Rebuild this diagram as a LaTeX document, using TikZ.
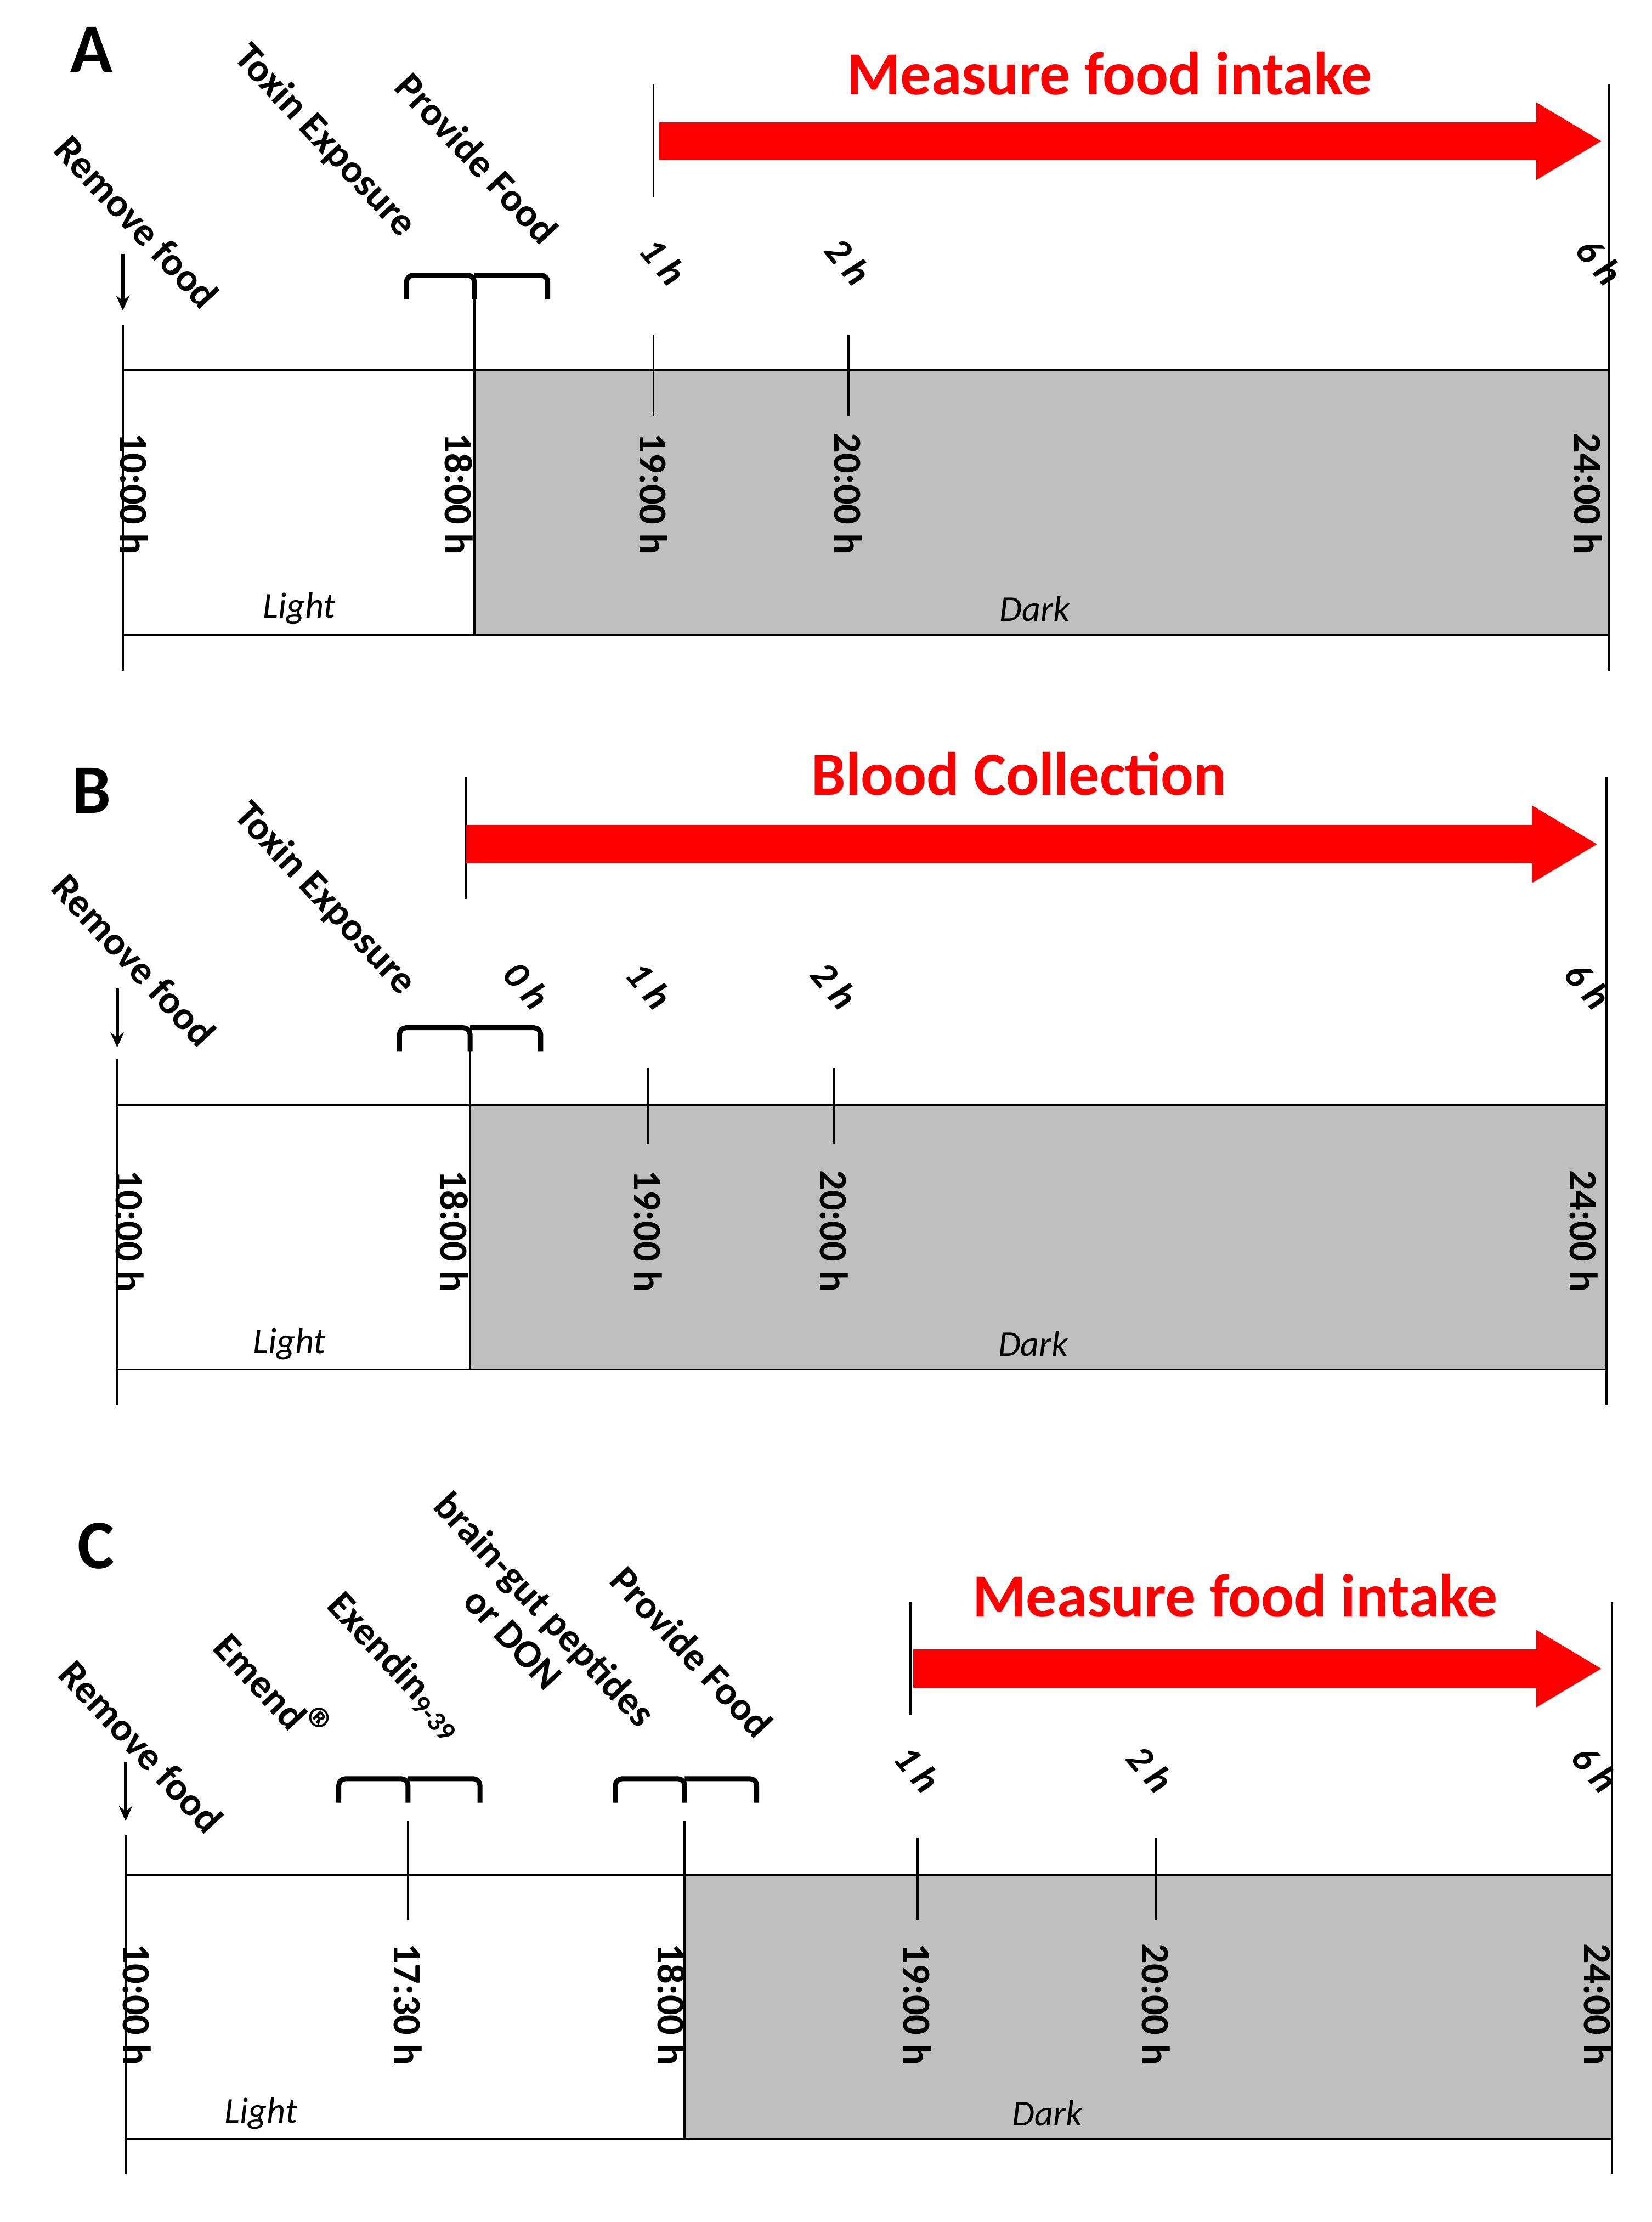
\documentclass[tikz,border=0pt]{standalone}
\usepackage{fontspec}
\setmainfont{Carlito}
\usetikzlibrary{arrows.meta,positioning}
\definecolor{darkgray}{RGB}{191,191,191}
\definecolor{myred}{RGB}{255,0,0}
\tikzset{
  tline/.style={black, line width=1.2pt},
  tick/.style={black, line width=1.2pt},
  tlabel/.style={rotate=-90, font=\fontsize{24}{27}\selectfont\bfseries, anchor=center},
  slabel/.style={rotate=-47, font=\fontsize{24}{26}\selectfont\bfseries, anchor=center, align=center},
  hlabel/.style={rotate=-50, font=\fontsize{23}{26}\selectfont\bfseries\itshape, anchor=center},
  plabel/.style={font=\fontsize{42}{46}\selectfont\bfseries},
  ttl/.style={font=\fontsize{37}{42}\selectfont\bfseries, text=myred},
  phase/.style={font=\fontsize{22}{25}\selectfont\itshape},
  bigarrow/.style={myred, line width=23pt, -{Triangle[length=40pt,width=44pt]}},
  brace/.style={black, line width=3pt, rounded corners=4pt},
  down/.style={-{Stealth[length=9pt,width=8pt]}, line width=2pt}
}
\begin{document}
\begin{tikzpicture}[x=0.03cm,y=-0.03cm]
\useasboundingbox (0,0) rectangle (1170,1574);

% ---------------- A
\node[plabel] (A) at (65,35) {A};
\fill[darkgray] (336,262) rectangle (1140,450);
\coordinate (a0) at (87,262); \coordinate (a1) at (1140,262);
\draw[tline] (a0) -- (a1);
\draw[tline] (87,450) -- (1140,450);
\draw[tick] (87,230) -- (87,475);
\draw[tick] (1140,60) -- (1140,475);
\draw[tick] (336,208) -- (336,450);
\draw[tick] (463,60) -- (463,140);
\foreach \x in {463,601} \draw[tick] (\x,237) -- (\x,295);
\foreach \x/\t in {95/10:00 h,325/18:00 h,463/19:00 h,601/20:00 h,1125/24:00 h}
  \node[tlabel] at (\x,350) {\t};
\node[phase] (la) at (212,431) {Light};
\node[phase] (da) at (733,431) {Dark};
\draw[down] (87,180) -- (87,220);
\draw[brace] (288,212) |- (336,195) -- (336,212);
\draw[brace] (336,195) -| (388,212);
\node[slabel] (rfa) at (97,157) {Remove food};
\node[slabel] (txa) at (230,100) {Toxin Exposure};
\node[slabel] (pfa) at (338,112) {Provide Food};
\foreach \x/\t in {470/1 h,601/2 h,1133/6 h} \node[hlabel] at (\x,185) {\t};
\coordinate (ma0) at (467,100); \coordinate (ma1) at (1135,100);
\draw[bigarrow] (ma0) -- (ma1);
\node[ttl] (mfa) at (786,52) {Measure food intake};

% ---------------- B
\node[plabel] (B) at (65,560) {B};
\fill[darkgray] (333,783) rectangle (1138,970);
\coordinate (b0) at (83,783); \coordinate (b1) at (1138,783);
\draw[tline] (b0) -- (b1);
\draw[tline] (83,970) -- (1138,970);
\draw[tick] (83,750) -- (83,995);
\draw[tick] (1138,550) -- (1138,995);
\draw[tick] (333,745) -- (333,970);
\draw[tick] (330,550) -- (330,637);
\foreach \x in {459,591} \draw[tick] (\x,757) -- (\x,810);
\foreach \x/\t in {92/10:00 h,322/18:00 h,459/19:00 h,591/20:00 h,1122/24:00 h}
  \node[tlabel] at (\x,872) {\t};
\node[phase] (lb) at (205,952) {Light};
\node[phase] (db) at (732,952) {Dark};
\draw[down] (83,700) -- (83,742);
\draw[brace] (283,745) |- (333,728) -- (333,745);
\draw[brace] (333,728) -| (383,745);
\node[slabel] (rfb) at (95,680) {Remove food};
\node[slabel] (txb) at (230,637) {Toxin Exposure};
\foreach \x/\t in {373/0 h,460/1 h,591/2 h,1125/6 h} \node[hlabel] at (\x,698) {\t};
\coordinate (mb0) at (330,598); \coordinate (mb1) at (1132,598);
\draw[bigarrow] (mb0) -- (mb1);
\node[ttl] (bcb) at (722,548) {Blood Collection};

% ---------------- C
\node[plabel] (C) at (68,1095) {C};
\fill[darkgray] (485,1328) rectangle (1142,1515);
\coordinate (c0) at (89,1328); \coordinate (c1) at (1142,1328);
\draw[tline] (c0) -- (c1);
\draw[tline] (89,1515) -- (1142,1515);
\draw[tick] (89,1300) -- (89,1540);
\draw[tick] (1142,1135) -- (1142,1540);
\draw[tick] (485,1290) -- (485,1515);
\draw[tick] (289,1290) -- (289,1360);
\draw[tick] (645,1135) -- (645,1215);
\foreach \x in {650,819} \draw[tick] (\x,1302) -- (\x,1360);
\foreach \x/\t in {97/10:00 h,289/17:30 h,476/18:00 h,650/19:00 h,819/20:00 h,1132/24:00 h}
  \node[tlabel] at (\x,1420) {\t};
\node[phase] (lc) at (185,1497) {Light};
\node[phase] (dc) at (742,1497) {Dark};
\draw[down] (89,1248) -- (89,1290);
\draw[brace] (240,1277) |- (289,1260) -- (289,1277);
\draw[brace] (289,1260) -| (340,1277);
\draw[brace] (436,1277) |- (485,1260) -- (485,1277);
\draw[brace] (485,1260) -| (536,1277);
\node[slabel] (rfc) at (100,1237) {Remove food};
\node[slabel] (emc) at (195,1195) {Emend\kern-1pt\scalebox{1.5}{®}};
\node[slabel] (exc) at (280,1180) {Exendin\textsubscript{9-39}};
\node[slabel] (bgc) at (375,1150) {brain-gut peptides\\or DON};
\node[slabel] (pfc) at (490,1170) {Provide Food};
\foreach \x/\t in {650/1 h,815/2 h,1130/6 h} \node[hlabel] at (\x,1253) {\t};
\coordinate (mc0) at (647,1182); \coordinate (mc1) at (1135,1182);
\draw[bigarrow] (mc0) -- (mc1);
\node[ttl] (mfc) at (875,1130) {Measure food intake};
\end{tikzpicture}
\end{document}
